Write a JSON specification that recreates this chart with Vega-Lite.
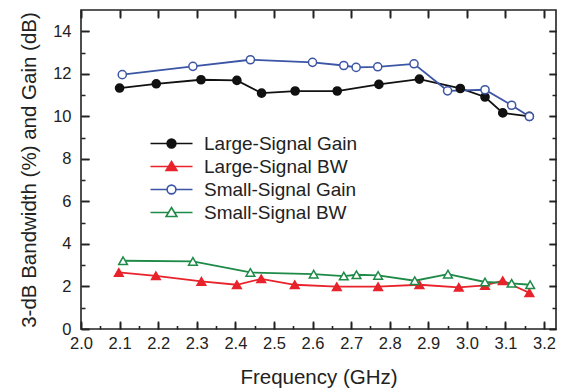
{
  "$schema": "https://vega.github.io/schema/vega-lite/v6.json",
  "width": 475,
  "height": 319,
  "autosize": {"type": "none"},
  "padding": {"left": 81, "top": 10, "right": 13, "bottom": 63},
  "background": "white",
  "config": {
    "view": {"stroke": "#222", "strokeWidth": 1.6},
    "font": "Liberation Sans",
    "axis": {"grid": false, "domain": false, "labelColor": "#222", "titleColor": "#222", "labelFont": "Liberation Sans", "titleFont": "Liberation Sans", "titleFontWeight": "normal", "tickColor": "#222", "tickOpacity": 1, "tickWidth": 1.6, "gridColor": "#222", "gridOpacity": 1, "gridWidth": 1.6, "zindex": 1},
    "legend": {"symbolOpacity": 1}
  },
  "data": {"values": [
    {"series": "Large-Signal Gain", "f": 2.100, "v": 11.33},
    {"series": "Large-Signal Gain", "f": 2.195, "v": 11.53},
    {"series": "Large-Signal Gain", "f": 2.311, "v": 11.72},
    {"series": "Large-Signal Gain", "f": 2.404, "v": 11.69},
    {"series": "Large-Signal Gain", "f": 2.468, "v": 11.09},
    {"series": "Large-Signal Gain", "f": 2.555, "v": 11.19},
    {"series": "Large-Signal Gain", "f": 2.664, "v": 11.19},
    {"series": "Large-Signal Gain", "f": 2.772, "v": 11.50},
    {"series": "Large-Signal Gain", "f": 2.877, "v": 11.75},
    {"series": "Large-Signal Gain", "f": 2.983, "v": 11.31},
    {"series": "Large-Signal Gain", "f": 3.047, "v": 10.91},
    {"series": "Large-Signal Gain", "f": 3.093, "v": 10.16},
    {"series": "Large-Signal Gain", "f": 3.162, "v": 10.00},
    {"series": "Large-Signal BW", "f": 2.098, "v": 2.66},
    {"series": "Large-Signal BW", "f": 2.194, "v": 2.50},
    {"series": "Large-Signal BW", "f": 2.312, "v": 2.24},
    {"series": "Large-Signal BW", "f": 2.404, "v": 2.08},
    {"series": "Large-Signal BW", "f": 2.467, "v": 2.36},
    {"series": "Large-Signal BW", "f": 2.554, "v": 2.08},
    {"series": "Large-Signal BW", "f": 2.663, "v": 1.99},
    {"series": "Large-Signal BW", "f": 2.770, "v": 1.99},
    {"series": "Large-Signal BW", "f": 2.877, "v": 2.08},
    {"series": "Large-Signal BW", "f": 2.979, "v": 1.96},
    {"series": "Large-Signal BW", "f": 3.047, "v": 2.05},
    {"series": "Large-Signal BW", "f": 3.093, "v": 2.27},
    {"series": "Large-Signal BW", "f": 3.162, "v": 1.70},
    {"series": "Small-Signal Gain", "f": 2.107, "v": 11.96},
    {"series": "Small-Signal Gain", "f": 2.290, "v": 12.35},
    {"series": "Small-Signal Gain", "f": 2.439, "v": 12.66},
    {"series": "Small-Signal Gain", "f": 2.600, "v": 12.54},
    {"series": "Small-Signal Gain", "f": 2.681, "v": 12.39},
    {"series": "Small-Signal Gain", "f": 2.713, "v": 12.30},
    {"series": "Small-Signal Gain", "f": 2.769, "v": 12.33},
    {"series": "Small-Signal Gain", "f": 2.863, "v": 12.47},
    {"series": "Small-Signal Gain", "f": 2.950, "v": 11.20},
    {"series": "Small-Signal Gain", "f": 3.047, "v": 11.25},
    {"series": "Small-Signal Gain", "f": 3.116, "v": 10.52},
    {"series": "Small-Signal Gain", "f": 3.162, "v": 9.99},
    {"series": "Small-Signal BW", "f": 2.109, "v": 3.21},
    {"series": "Small-Signal BW", "f": 2.290, "v": 3.18},
    {"series": "Small-Signal BW", "f": 2.439, "v": 2.66},
    {"series": "Small-Signal BW", "f": 2.603, "v": 2.58},
    {"series": "Small-Signal BW", "f": 2.681, "v": 2.49},
    {"series": "Small-Signal BW", "f": 2.714, "v": 2.55},
    {"series": "Small-Signal BW", "f": 2.770, "v": 2.52},
    {"series": "Small-Signal BW", "f": 2.865, "v": 2.27},
    {"series": "Small-Signal BW", "f": 2.951, "v": 2.58},
    {"series": "Small-Signal BW", "f": 3.047, "v": 2.21},
    {"series": "Small-Signal BW", "f": 3.116, "v": 2.15},
    {"series": "Small-Signal BW", "f": 3.164, "v": 2.08}
  ]},
  "resolve": {"axis": {"x": "independent", "y": "independent"}},
  "layer": [
    {
      "mark": {"type": "line", "strokeWidth": 1.8},
      "encoding": {
        "x": {"field": "f", "type": "quantitative",
          "scale": {"domain": [2.0, 3.231], "nice": false, "zero": false},
          "axis": {"orient": "bottom", "title": "Frequency (GHz)", "values": [2.0, 2.1, 2.2, 2.3, 2.4, 2.5, 2.6, 2.7, 2.8, 2.9, 3.0, 3.1, 3.2], "format": ".1f", "labelFontSize": 16.5, "titleFontSize": 20.5, "ticks": true, "offset": -8, "tickSize": 8, "labelPadding": 6, "titleBaseline": "alphabetic", "titleY": 62, "labelFlush": false, "labelOverlap": false}},
        "y": {"field": "v", "type": "quantitative",
          "scale": {"domain": [0, 15], "nice": false},
          "axis": {"orient": "left", "title": "3-dB Bandwidth (%) and Gain (dB)", "values": [0, 2, 4, 6, 8, 10, 12, 14], "labelFontSize": 16.5, "titleFontSize": 20.5, "ticks": true, "offset": -8, "tickSize": 8, "labelPadding": 10, "titleBaseline": "alphabetic", "titleX": -54, "labelFlush": false, "labelOverlap": false}},
        "stroke": {"field": "series", "type": "nominal",
          "scale": {"domain": ["Large-Signal Gain", "Large-Signal BW", "Small-Signal Gain", "Small-Signal BW"], "range": ["#111111", "#e8232b", "#3c55a5", "#1e8a48"]},
          "legend": {"title": null, "orient": "none", "legendX": 81, "legendY": 124, "padding": 0, "symbolSize": 64, "symbolStrokeWidth": 1.6, "labelFontSize": 19, "labelColor": "#222", "labelOffset": 23, "rowPadding": 3, "labelLimit": 300}}
      }
    },
    {
      "transform": [{"filter": "indexof(datum.series, 'Gain') >= 0"}],
      "mark": {"type": "point", "shape": "circle", "opacity": 1, "strokeWidth": 1.5, "size": 66},
      "encoding": {
        "x": {"field": "f", "type": "quantitative",
          "scale": {"domain": [2.0, 3.231], "nice": false, "zero": false},
          "axis": {"orient": "top", "title": null, "labels": false, "ticks": true, "values": [2.0, 2.1, 2.2, 2.3, 2.4, 2.5, 2.6, 2.7, 2.8, 2.9, 3.0, 3.1, 3.2], "offset": -7, "tickSize": 7}},
        "y": {"field": "v", "type": "quantitative",
          "scale": {"domain": [0, 15], "nice": false},
          "axis": {"orient": "right", "title": null, "labels": false, "ticks": true, "values": [0, 2, 4, 6, 8, 10, 12, 14], "offset": -7, "tickSize": 7}},
        "stroke": {"field": "series", "type": "nominal",
          "scale": {"domain": ["Large-Signal Gain", "Large-Signal BW", "Small-Signal Gain", "Small-Signal BW"], "range": ["#111111", "#e8232b", "#3c55a5", "#1e8a48"]},
          "legend": {"title": null, "orient": "none", "legendX": 81, "legendY": 124, "padding": 0, "symbolSize": 64, "symbolStrokeWidth": 1.6, "labelFontSize": 19, "labelColor": "#222", "labelOffset": 23, "rowPadding": 3, "labelLimit": 300}},
        "fill": {"field": "series", "type": "nominal",
          "scale": {"domain": ["Large-Signal Gain", "Large-Signal BW", "Small-Signal Gain", "Small-Signal BW"], "range": ["#111111", "#e8232b", "#ffffff", "#ffffff"]},
          "legend": {"title": null, "orient": "none", "legendX": 81, "legendY": 124, "padding": 0, "symbolSize": 64, "symbolStrokeWidth": 1.6, "labelFontSize": 19, "labelColor": "#222", "labelOffset": 23, "rowPadding": 3, "labelLimit": 300}}
      }
    },
    {
      "transform": [{"filter": "indexof(datum.series, 'BW') >= 0"}],
      "mark": {"type": "point", "shape": "triangle-up", "opacity": 1, "strokeWidth": 1.5, "size": 76},
      "encoding": {
        "x": {"field": "f", "type": "quantitative",
          "scale": {"domain": [2.0, 3.231], "nice": false, "zero": false},
          "axis": {"orient": "bottom", "title": null, "labels": false, "ticks": false, "values": [2.0, 2.1, 2.2, 2.3, 2.4, 2.5, 2.6, 2.7, 2.8, 2.9, 3.0, 3.1, 3.2], "grid": true, "gridDash": [8, 304, 7, 1000]}},
        "y": {"field": "v", "type": "quantitative",
          "scale": {"domain": [0, 15], "nice": false},
          "axis": {"orient": "left", "title": null, "labels": false, "ticks": false, "values": [0, 2, 4, 6, 8, 10, 12, 14], "grid": true, "gridDash": [8, 460, 7, 1000]}},
        "stroke": {"field": "series", "type": "nominal",
          "scale": {"domain": ["Large-Signal Gain", "Large-Signal BW", "Small-Signal Gain", "Small-Signal BW"], "range": ["#111111", "#e8232b", "#3c55a5", "#1e8a48"]},
          "legend": {"title": null, "orient": "none", "legendX": 81, "legendY": 124, "padding": 0, "symbolSize": 64, "symbolStrokeWidth": 1.6, "labelFontSize": 19, "labelColor": "#222", "labelOffset": 23, "rowPadding": 3, "labelLimit": 300}},
        "fill": {"field": "series", "type": "nominal",
          "scale": {"domain": ["Large-Signal Gain", "Large-Signal BW", "Small-Signal Gain", "Small-Signal BW"], "range": ["#111111", "#e8232b", "#ffffff", "#ffffff"]},
          "legend": {"title": null, "orient": "none", "legendX": 81, "legendY": 124, "padding": 0, "symbolSize": 64, "symbolStrokeWidth": 1.6, "labelFontSize": 19, "labelColor": "#222", "labelOffset": 23, "rowPadding": 3, "labelLimit": 300}}
      }
    },
    {
      "mark": {"type": "point", "opacity": 0, "size": 64},
      "encoding": {
        "x": {"field": "f", "type": "quantitative",
          "scale": {"domain": [2.0, 3.231], "nice": false, "zero": false},
          "axis": {"orient": "top", "title": null, "labels": false, "ticks": false, "values": [2.05, 2.15, 2.25, 2.35, 2.45, 2.55, 2.65, 2.75, 2.85, 2.95, 3.05, 3.15], "grid": true, "gridDash": [3.5, 1000]}},
        "y": {"field": "v", "type": "quantitative",
          "scale": {"domain": [0, 15], "nice": false},
          "axis": {"orient": "left", "title": null, "labels": false, "ticks": false, "values": [1, 3, 5, 7, 9, 11, 13], "grid": true, "gridDash": [4, 467, 4, 1000]}},
        "shape": {"field": "series", "type": "nominal",
          "scale": {"domain": ["Large-Signal Gain", "Large-Signal BW", "Small-Signal Gain", "Small-Signal BW"], "range": ["M-5.25,0H-1.1M1.1,0H5.25M1.1,0A1.1,1.1,0,1,1,-1.1,0A1.1,1.1,0,1,1,1.1,0Z", "M-5.25,0H-0.75M0.75,0H5.25M0,-1.25L1.35,1L-1.35,1Z", "M-5.25,0H-1.1M1.1,0H5.25M1.1,0A1.1,1.1,0,1,1,-1.1,0A1.1,1.1,0,1,1,1.1,0Z", "M-5.25,0H-0.75M0.75,0H5.25M0,-1.25L1.35,1L-1.35,1Z"]},
          "legend": {"title": null, "orient": "none", "legendX": 81, "legendY": 124, "padding": 0, "symbolSize": 64, "symbolStrokeWidth": 1.6, "labelFontSize": 19, "labelColor": "#222", "labelOffset": 23, "rowPadding": 3, "labelLimit": 300}}
      }
    }
  ]
}
